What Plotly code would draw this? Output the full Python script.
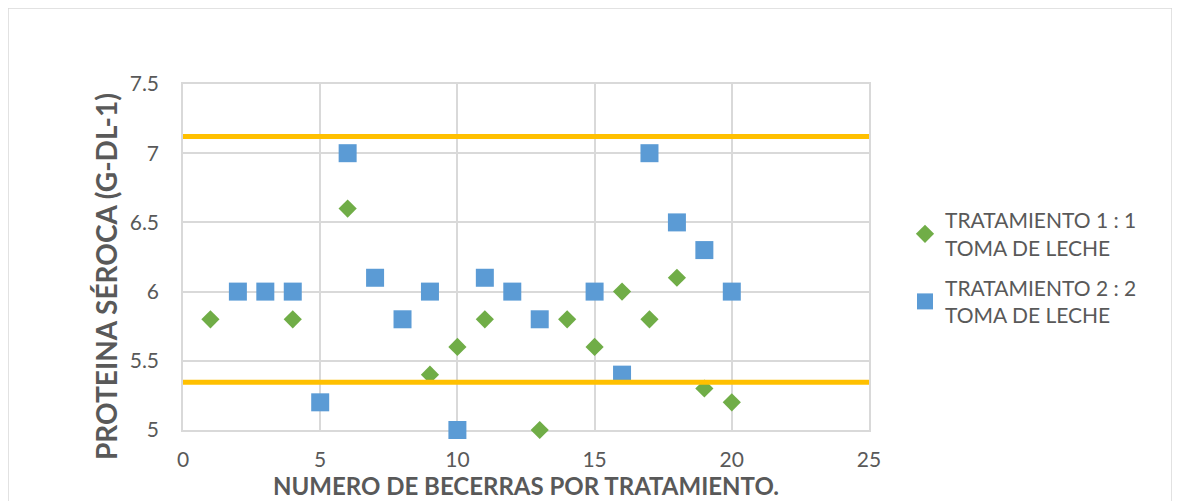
import plotly.graph_objects as go

# Data
t1_x = [1, 4, 6, 9, 10, 11, 13, 14, 15, 16, 17, 18, 19, 20]
t1_y = [5.8, 5.8, 6.6, 5.4, 5.6, 5.8, 5.0, 5.8, 5.6, 6.0, 5.8, 6.1, 5.3, 5.2]
t2_x = [2, 3, 4, 5, 6, 7, 8, 9, 10, 11, 12, 13, 15, 16, 17, 18, 19, 20]
t2_y = [6.0, 6.0, 6.0, 5.2, 7.0, 6.1, 5.8, 6.0, 5.0, 6.1, 6.0, 5.8, 6.0, 5.4, 7.0, 6.5, 6.3, 6.0]
limit_x = [0, 25]
upper_limit = 7.12
lower_limit = 5.345
x_ticks = [0, 5, 10, 15, 20, 25]
y_ticks = [5, 5.5, 6, 6.5, 7, 7.5]
y_tick_labels = ["5", "5.5", "6", "6.5", "7", "7.5"]

names = ["TRATAMIENTO 1 : 1<br>TOMA DE LECHE", "TRATAMIENTO 2 : 2<br>TOMA DE LECHE"]

GRAY = "#595959"
GRID = "#d9d9d9"
FONT = "Lato, Open Sans, sans-serif"

OFF = 8  # page body margin
W, H = 1180 - OFF, 501 - OFF
L, T = 183 - OFF, 84 - OFF
R = W - (869 - OFF)
B = H - (430 - OFF)
pw, ph = W - L - R, H - T - B

fig = go.Figure()
fig.add_trace(go.Scatter(x=t1_x, y=t1_y, mode="markers", name=names[0], legendgroup="g1",
                         cliponaxis=False,
                         marker=dict(symbol="diamond", size=14, color="#70AD47")))
fig.add_trace(go.Scatter(x=t2_x, y=t2_y, mode="markers", name=names[1], legendgroup="g2",
                         cliponaxis=False,
                         marker=dict(symbol="square", size=18, color="#5B9BD5")))
fig.add_trace(go.Scatter(x=limit_x, y=[upper_limit] * 2, mode="lines", showlegend=False,
                         cliponaxis=False,
                         line=dict(color="#FFC000", width=5), hoverinfo="skip"))
fig.add_trace(go.Scatter(x=limit_x, y=[lower_limit] * 2, mode="lines", showlegend=False,
                         cliponaxis=False,
                         line=dict(color="#FFC000", width=5), hoverinfo="skip"))

def px_x(p):
    return (p - OFF - L) / pw

def px_y(p):
    return (H - B - (p - OFF)) / ph

fig.add_shape(type="rect", xref="paper", yref="paper",
              x0=px_x(8), x1=px_x(1172), y0=px_y(520), y1=px_y(8),
              line=dict(color=GRID, width=1.5), layer="below")

fig.add_annotation(text="<b>PROTEINA SÉROCA (G-DL-1)</b>", xref="paper", yref="paper",
                   x=px_x(106), y=px_y(277), xanchor="center", yanchor="middle",
                   textangle=-90, showarrow=False, font=dict(size=28, color=GRAY))

fig.update_layout(
    width=W, height=H,
    margin=dict(l=L, r=R, t=T, b=B, autoexpand=False),
    paper_bgcolor="white", plot_bgcolor="white",
    font=dict(family=FONT, color=GRAY, size=21),
    legend=dict(x=px_x(905), y=px_y(200), xanchor="left", yanchor="top",
                font=dict(size=21, color=GRAY), tracegroupgap=10,
                bgcolor="rgba(0,0,0,0)"),
    xaxis=dict(range=[0, 25], tickvals=x_ticks, ticktext=[str(v) for v in x_ticks],
               showgrid=True, gridcolor=GRID, gridwidth=1.5, zeroline=False,
               showline=True, linecolor=GRID, linewidth=1.5, mirror=True,
               layer="below traces",
               tickfont=dict(size=21, color=GRAY), ticks="outside", ticklen=10,
               tickcolor="rgba(0,0,0,0)",
               title=dict(text="<b>NUMERO DE BECERRAS POR TRATAMIENTO.</b>",
                          font=dict(size=24, color=GRAY), standoff=0)),
    yaxis=dict(range=[5, 7.5], tickvals=y_ticks, ticktext=y_tick_labels,
               showgrid=True, gridcolor=GRID, gridwidth=1.5, zeroline=False,
               showline=True, linecolor=GRID, linewidth=1.5, mirror=True,
               layer="below traces",
               tickfont=dict(size=21, color=GRAY), ticks="outside", ticklen=18,
               tickcolor="rgba(0,0,0,0)"),
)

fig.write_html("out.html")
